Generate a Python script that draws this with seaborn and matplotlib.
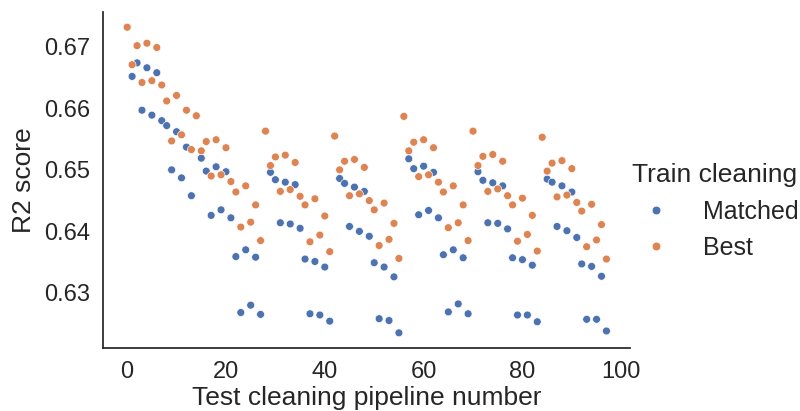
import numpy as np
import pandas as pd
import seaborn as sns
import matplotlib
matplotlib.use("Agg")
import matplotlib.pyplot as plt

# R2 scores per test cleaning pipeline (0..97)
best = [
    0.6732, 0.6671, 0.6702, 0.6642, 0.6706, 0.6645, 0.6699, 0.6638, 0.6612, 0.6547, 0.6621, 0.6557, 0.6597, 0.6533,
    0.6588, 0.6531, 0.6546, 0.6490, 0.6549, 0.6492, 0.6536, 0.6481, 0.6464, 0.6407, 0.6474, 0.6415, 0.6443, 0.6385,
    0.6563, 0.6507, 0.6521, 0.6465, 0.6524, 0.6468, 0.6512, 0.6457, 0.6443, 0.6383, 0.6453, 0.6394, 0.6425, 0.6367,
    0.6555, 0.6500, 0.6514, 0.6458, 0.6517, 0.6461, 0.6504, 0.6450, 0.6435, 0.6377, 0.6446, 0.6387, 0.6413, 0.6356,
    0.6587, 0.6531, 0.6545, 0.6489, 0.6549, 0.6492, 0.6536, 0.6480, 0.6464, 0.6406, 0.6474, 0.6414, 0.6443, 0.6385,
    0.6563, 0.6507, 0.6522, 0.6465, 0.6525, 0.6469, 0.6514, 0.6458, 0.6443, 0.6384, 0.6454, 0.6395, 0.6426, 0.6368,
    0.6553, 0.6498, 0.6511, 0.6456, 0.6515, 0.6459, 0.6502, 0.6447, 0.6433, 0.6375, 0.6444, 0.6386, 0.6411, 0.6355,
]
matched = [
    0.6732, 0.6652, 0.6674, 0.6597, 0.6666, 0.6589, 0.6658, 0.6580, 0.6572, 0.6500, 0.6562, 0.6487, 0.6537, 0.6458,
    0.6588, 0.6519, 0.6498, 0.6426, 0.6505, 0.6435, 0.6497, 0.6422, 0.6359, 0.6268, 0.6370, 0.6280, 0.6358, 0.6265,
    0.6563, 0.6496, 0.6484, 0.6414, 0.6480, 0.6412, 0.6476, 0.6405, 0.6355, 0.6266, 0.6351, 0.6264, 0.6342, 0.6254,
    0.6555, 0.6486, 0.6478, 0.6408, 0.6472, 0.6400, 0.6465, 0.6392, 0.6349, 0.6258, 0.6342, 0.6255, 0.6326, 0.6235,
    0.6587, 0.6518, 0.6502, 0.6427, 0.6506, 0.6434, 0.6496, 0.6422, 0.6362, 0.6269, 0.6370, 0.6282, 0.6357, 0.6266,
    0.6563, 0.6497, 0.6483, 0.6414, 0.6479, 0.6413, 0.6474, 0.6404, 0.6357, 0.6264, 0.6354, 0.6264, 0.6345, 0.6253,
    0.6553, 0.6485, 0.6480, 0.6408, 0.6474, 0.6401, 0.6464, 0.6390, 0.6347, 0.6257, 0.6343, 0.6257, 0.6327, 0.6238,
]
pipeline = np.arange(len(best))

df = pd.concat([
    pd.DataFrame({"pipeline": pipeline, "r2": matched, "Train cleaning": "Matched"}),
    pd.DataFrame({"pipeline": pipeline, "r2": best, "Train cleaning": "Best"}),
])

sns.set_theme(style="white")
plt.rcParams["font.family"] = ["Liberation Sans", "DejaVu Sans"]

fig = plt.figure(figsize=(8, 4.11), dpi=100)
ax = fig.add_axes([0.129, 0.153, 0.659, 0.818])

sns.scatterplot(data=df, x="pipeline", y="r2", hue="Train cleaning",
                hue_order=["Matched", "Best"], palette="deep", s=32, ax=ax)
sns.despine(ax=ax)

ax.set_xticks([0, 20, 40, 60, 80, 100])
ax.set_yticks([0.63, 0.64, 0.65, 0.66, 0.67])
ax.tick_params(labelsize=17)
ax.set_xlabel("Test cleaning pipeline number", fontsize=19, labelpad=2)
ax.set_ylabel("R2 score", fontsize=19, labelpad=6)

handles, labels = ax.get_legend_handles_labels()
ax.legend_.remove()
leg = fig.legend(handles, labels, title="Train cleaning", loc="center left",
                 bbox_to_anchor=(0.761, 0.485), frameon=False, fontsize=18,
                 title_fontsize=19, markerscale=1.1, handletextpad=0.85,
                 labelspacing=0.5)

fig.savefig("out.png", dpi=100)
